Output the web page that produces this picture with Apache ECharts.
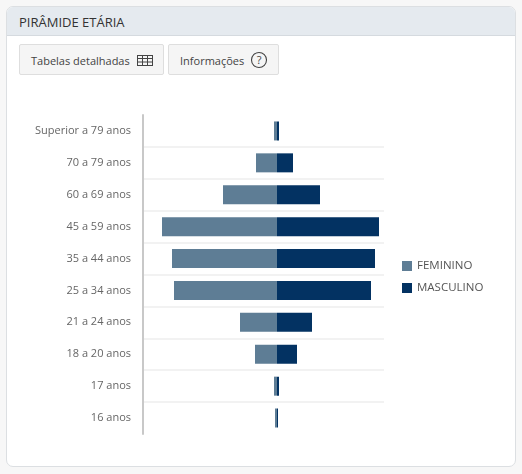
<!DOCTYPE html>
<html>
<head>
<meta charset="utf-8">
<script src="https://cdn.jsdelivr.net/npm/echarts@6/dist/echarts.min.js"></script>
<style>
  html, body { margin:0; padding:0; width:522px; height:474px; background:#f7f7f7; overflow:hidden; font-family:"Open Sans","Noto Sans",sans-serif; }
  .card { position:absolute; left:6px; top:6px; width:508px; height:459px; background:#fff; border:1px solid #dcdfe2; border-radius:7px; overflow:hidden; }
  .hdr { position:absolute; left:0; top:0; right:0; height:28px; background:#e5eaef; border-bottom:1px solid #d5dadf; }
  .hdr span { position:absolute; left:12px; top:6px; font-size:13px; color:#333; letter-spacing:0; }
  .btn { position:absolute; top:37px; height:31px; background:#f5f5f5; border:1px solid #dedede; border-radius:2px; font-size:11px; color:#444; line-height:31px; box-sizing:border-box; }
  .btn .t { position:absolute; top:0; }
  #chart { position:absolute; left:0; top:0; width:522px; height:474px; }
</style>
</head>
<body>
<div class="card">
  <div class="hdr"><span>PIRÂMIDE ETÁRIA</span></div>
  <div class="btn" style="left:12px;width:145px;"><span class="t" style="left:11px">Tabelas detalhadas</span>
    <svg width="16" height="11" style="position:absolute;left:117px;top:10px" viewBox="0 0 16 11">
      <rect x="0.5" y="0.5" width="15" height="10" fill="none" stroke="#444" stroke-width="1"/>
      <line x1="0" y1="3.5" x2="16" y2="3.5" stroke="#444"/>
      <line x1="0" y1="7" x2="16" y2="7" stroke="#444"/>
      <line x1="5.5" y1="0" x2="5.5" y2="11" stroke="#444"/>
      <line x1="10.5" y1="0" x2="10.5" y2="11" stroke="#444"/>
    </svg>
  </div>
  <div class="btn" style="left:161px;width:111px;"><span class="t" style="left:11px">Informações</span>
    <svg width="18" height="18" style="position:absolute;left:81px;top:6px" viewBox="0 0 18 18">
      <circle cx="9" cy="9" r="7.5" fill="none" stroke="#444" stroke-width="1.1"/>
      <text x="9" y="13" text-anchor="middle" font-size="11" font-family="Open Sans" fill="#444">?</text>
    </svg>
  </div>
</div>
<div id="chart"></div>
<script>
const categories = ['Superior a 79 anos','70 a 79 anos','60 a 69 anos','45 a 59 anos','35 a 44 anos','25 a 34 anos','21 a 24 anos','18 a 20 anos','17 anos','16 anos'];
const feminino = [0.3, 2.1, 5.4, 11.5, 10.5, 10.3, 3.7, 2.2, 0.3, 0.2];
const masculino = [0.2, 1.6, 4.3, 10.2, 9.8, 9.4, 3.5, 2.0, 0.2, 0.1];

const chart = echarts.init(document.getElementById('chart'), null, {renderer:'canvas'});
chart.setOption({
  backgroundColor: 'transparent',
  animation: false,
  textStyle: { fontFamily: 'Open Sans' },
  legend: {
    orient: 'vertical', left: 397, top: 255,
    itemWidth: 10, itemHeight: 10, itemGap: 10,
    icon: 'rect',
    textStyle: { color: '#555', fontSize: 11.5 },
    data: ['FEMININO','MASCULINO']
  },
  grid: { left: 143, right: 138, top: 115, bottom: 40, containLabel: false },
  xAxis: {
    type: 'value', min: -13.4, max: 10.7, show: false
  },
  yAxis: {
    type: 'category', data: categories, inverse: true,
    axisLine: { show: true, onZero: false, lineStyle: { color: '#c8c8c8', width: 2 } },
    axisTick: { show: false },
    axisLabel: { color: '#666', fontSize: 11, margin: 12 },
    splitLine: { show: true, showMinLine: false, showMaxLine: false, lineStyle: { color: '#f2f2f2', width: 2 } }
  },
  series: [
    { name: 'FEMININO', type: 'bar', stack: 'p', barWidth: 19, itemStyle: { color: '#5e7d95' },
      data: feminino.map(v => -v) },
    { name: 'MASCULINO', type: 'bar', stack: 'p', barWidth: 19, itemStyle: { color: '#033262' },
      data: masculino }
  ]
});
</script>
</body>
</html>
